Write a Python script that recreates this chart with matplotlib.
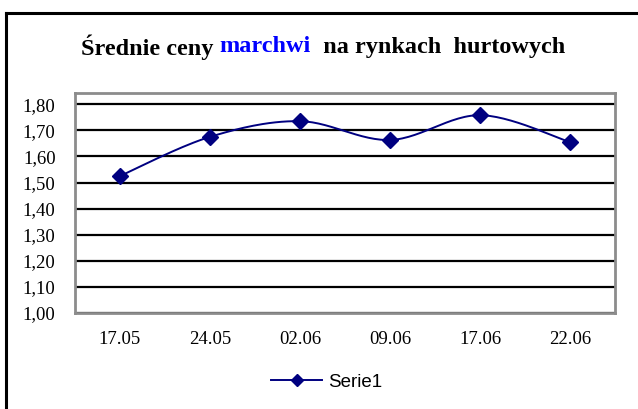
import numpy as np
import matplotlib
matplotlib.use("Agg")
import matplotlib.pyplot as plt
from matplotlib.lines import Line2D

categories = ["17.05", "24.05", "02.06", "09.06", "17.06", "22.06"]
values = [1.525, 1.675, 1.735, 1.663, 1.758, 1.655]
yticks = [1.00, 1.10, 1.20, 1.30, 1.40, 1.50, 1.60, 1.70, 1.80]
series_name = "Serie1"
title_parts = [("Średnie ceny ", "black"), ("marchwi", "#0000FF"), ("  na rynkach  hurtowych", "black")]

W, H = 638, 409
fig = plt.figure(figsize=(W / 100, H / 100), dpi=100)
fig.patch.set_facecolor("white")

# outer chart frame (top and left visible)
fig.add_artist(Line2D([6 / W, 1.0], [1 - 13 / H, 1 - 13 / H], color="black", lw=2.2, transform=fig.transFigure))
fig.add_artist(Line2D([6 / W, 6 / W], [0, 1 - 13 / H], color="black", lw=2.2, transform=fig.transFigure))

ax = fig.add_axes([75 / W, 1 - 313 / H, 540 / W, 220 / H])
x = np.arange(len(categories))

# smoothed line (Catmull-Rom through data points)
def catmull(xs, ys, n=30):
    P = np.column_stack([xs, ys]).astype(float)
    P = np.vstack([P[0], P, P[-1]])
    out = []
    for i in range(1, len(P) - 2):
        p0, p1, p2, p3 = P[i - 1], P[i], P[i + 1], P[i + 2]
        t = np.linspace(0, 1, n)[:, None]
        c1 = p1 + (p2 - p0) / 6
        c2 = p2 - (p3 - p1) / 6
        seg = (1 - t) ** 3 * p1 + 3 * (1 - t) ** 2 * t * c1 + 3 * (1 - t) * t ** 2 * c2 + t ** 3 * p2
        out.append(seg)
    return np.vstack(out)

curve = catmull(x, values)
ax.plot(curve[:, 0], curve[:, 1], color="#000080", lw=1.4, zorder=3)
ax.plot(x, values, linestyle="none", marker="D", markersize=8.5, color="#000080", zorder=4)

ax.set_xlim(-0.5, len(categories) - 0.5)
ax.set_ylim(1.0, 1.843)
ax.set_yticks(yticks)
ax.set_yticklabels([f"{v:.2f}".replace(".", ",") for v in yticks], family="Liberation Serif", fontsize=13.5)
ax.set_xticks(x)
ax.set_xticklabels(categories, family="Liberation Serif", fontsize=13.5)
ax.tick_params(length=0, pad=13, axis="x")
ax.tick_params(length=0, pad=14, axis="y")
for v in yticks:
    ax.axhline(v, color="black", lw=1.6, zorder=1)
for s in ax.spines.values():
    s.set_color("#8c8c8c")
    s.set_linewidth(2)

# title with coloured word
fig.canvas.draw()
renderer = fig.canvas.get_renderer()
texts = []
for part, col in title_parts:
    t = fig.text(0, 1 - 47 / H, part, color=col, fontsize=17.5, fontweight="bold",
                 family="Liberation Serif", va="center", ha="left")
    texts.append(t)
widths = [t.get_window_extent(renderer).width for t in texts]
total = sum(widths)
xpos = 323 - total / 2
for t, w in zip(texts, widths):
    t.set_x(xpos / W)
    xpos += w

# legend
handle = Line2D([], [], color="#000080", lw=1.4, marker="D", markersize=6)
fig.legend([handle], [series_name], loc="center", bbox_to_anchor=(327 / W, 1 - 382 / H),
           frameon=False, prop={"family": "Liberation Sans", "size": 13.5}, handlelength=2.7,
           handletextpad=0.35)

fig.savefig("out.png", dpi=100)
